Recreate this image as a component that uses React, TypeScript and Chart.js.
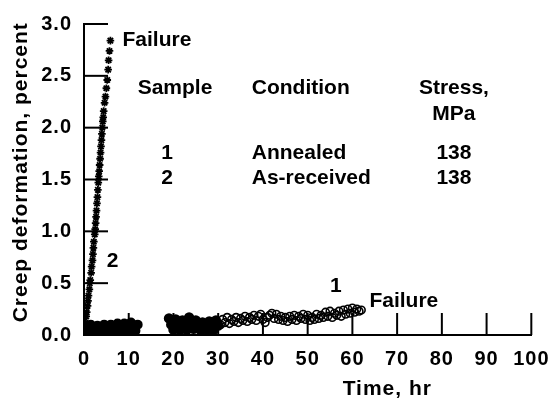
import { useEffect, useRef } from 'react';
import { Chart, registerables } from 'chart.js';

Chart.register(...registerables);

const FONT = '"Liberation Sans", Arial, Helvetica, sans-serif';

// Axis ticks
const xTicks = [0, 10, 20, 30, 40, 50, 60, 70, 80, 90, 100];
const yTicks = [0, 0.5, 1.0, 1.5, 2.0, 2.5, 3.0];

// Sample 1 (annealed) – circles, time in hr, creep in percent
const s1aTime = [0, 0.5, 1, 1.5, 2, 2.5, 3, 3.5, 4, 4.5, 5, 5.5, 6, 6.5, 7, 7.5, 8, 8.5, 9, 9.5, 10, 10.5, 11, 11.5, 12];
const s1aCreep = [0.09, 0.06, 0.03, 0.10, 0.06, 0.03, 0.09, 0.06, 0.03, 0.10, 0.06, 0.04, 0.10, 0.07, 0.04, 0.11, 0.07, 0.04, 0.11, 0.07, 0.04, 0.12, 0.08, 0.04, 0.10];
const s1bTime = [19, 19.5, 20, 20.5, 21, 21.5, 22, 22.5, 23, 23.5, 24, 24.5, 25, 25.5, 26, 26.5, 27, 27.5, 28, 28.5, 29, 29.5, 30];
const s1bCreep = [0.16, 0.10, 0.05, 0.15, 0.09, 0.05, 0.14, 0.10, 0.05, 0.17, 0.11, 0.06, 0.14, 0.09, 0.05, 0.12, 0.08, 0.04, 0.13, 0.09, 0.05, 0.14, 0.09];
const s1cTime = [30.5, 31, 31.5, 32, 32.5, 33, 33.5, 34, 34.5, 35, 35.5, 36, 36.5, 37, 37.5, 38, 38.5, 39, 39.5, 40, 40.5, 41, 41.5, 42, 42.5, 43, 43.5, 44, 44.5, 45, 45.5, 46, 46.5, 47, 47.5, 48, 48.5, 49, 49.5, 50, 50.5, 51, 51.5, 52, 52.5, 53, 53.5, 54, 54.5, 55, 55.5, 56, 56.5, 57, 57.5, 58, 58.5, 59, 59.5, 60, 60.5, 61, 61.5, 62];
const s1cCreep = [0.10, 0.15, 0.12, 0.17, 0.11, 0.15, 0.13, 0.17, 0.12, 0.16, 0.14, 0.18, 0.13, 0.17, 0.15, 0.19, 0.14, 0.18, 0.20, 0.15, 0.12, 0.17, 0.19, 0.21, 0.16, 0.20, 0.15, 0.18, 0.14, 0.17, 0.13, 0.18, 0.15, 0.19, 0.14, 0.18, 0.16, 0.20, 0.15, 0.19, 0.14, 0.17, 0.15, 0.20, 0.16, 0.19, 0.17, 0.22, 0.18, 0.23, 0.17, 0.21, 0.19, 0.23, 0.18, 0.24, 0.20, 0.25, 0.21, 0.26, 0.22, 0.25, 0.23, 0.24];

// Sample 2 (as-received) – asterisks
const s2Time = [0.1, 0.2, 0.3, 0.5, 0.6, 0.8, 0.9, 1.0, 1.2, 1.3, 1.4, 1.6, 1.7, 1.9, 2.0, 2.1, 2.2, 2.4, 2.5, 2.6, 2.7, 2.8, 2.9, 3.0, 3.1, 3.2, 3.3, 3.4, 3.5, 3.6, 3.7, 3.8, 3.9, 4.0, 4.1, 4.2, 4.3, 4.4, 4.6, 4.8, 5.0, 5.2, 5.4, 5.5, 5.7, 5.9];
const s2Creep = [0.02, 0.08, 0.12, 0.18, 0.22, 0.28, 0.33, 0.38, 0.44, 0.5, 0.53, 0.6, 0.66, 0.72, 0.78, 0.84, 0.9, 0.97, 1.02, 1.08, 1.14, 1.2, 1.27, 1.33, 1.4, 1.47, 1.53, 1.58, 1.64, 1.7, 1.76, 1.82, 1.88, 1.94, 2.0, 2.06, 2.1, 2.16, 2.24, 2.3, 2.38, 2.46, 2.56, 2.65, 2.74, 2.84];

// Inset table
const tableHeads = ['Sample', 'Condition', 'Stress,'];
const stressUnit = 'MPa';
const sampleIds = ['1', '2'];
const conditions = ['Annealed', 'As-received'];
const stresses = ['138', '138'];

const xTitle = 'Time, hr';
const yTitle = 'Creep deformation, percent';

const pts = (t: number[], v: number[]) => t.slice(0, Math.min(t.length, v.length)).map((x, i) => ({ x, y: v[i] }));

const decor = {
  id: 'decor',
  beforeDraw(chart: any) {
    chart.ctx.letterSpacing = '1px';
  },
  beforeDatasetsDraw(chart: any) {
    const { ctx, chartArea } = chart;
    const xs = chart.scales.x;
    const ys = chart.scales.y;
    ctx.save();
    ctx.strokeStyle = '#000';
    ctx.lineWidth = 2;
    yTicks.forEach((v) => {
      const py = ys.getPixelForValue(v);
      ctx.beginPath();
      ctx.moveTo(chartArea.left, py);
      ctx.lineTo(chartArea.left + 24, py);
      ctx.stroke();
    });
    xTicks.forEach((v) => {
      const px = xs.getPixelForValue(v);
      ctx.beginPath();
      ctx.moveTo(px, chartArea.bottom);
      ctx.lineTo(px, chartArea.bottom - 22);
      ctx.stroke();
    });
    ctx.restore();
  },
  afterDraw(chart: any) {
    const { ctx, chartArea } = chart;
    const xs = chart.scales.x;
    const ys = chart.scales.y;
    ctx.save();
    ctx.letterSpacing = '0px';
    ctx.fillStyle = '#000';
    ctx.textBaseline = 'middle';
    const txt = (s: string, xv: number, yv: number, align: CanvasTextAlign) => {
      ctx.textAlign = align;
      ctx.fillText(s, xs.getPixelForValue(xv), ys.getPixelForValue(yv));
    };
    ctx.font = `bold 21px ${FONT}`;
    txt('Failure', 8.6, 2.84, 'left');
    txt('2', 5.1, 0.71, 'left');
    txt('1', 55, 0.47, 'left');
    txt('Failure', 63.8, 0.33, 'left');
    txt(tableHeads[0], 12.0, 2.38, 'left');
    txt(tableHeads[1], 37.5, 2.38, 'left');
    txt(tableHeads[2], 82.7, 2.38, 'center');
    txt(stressUnit, 82.7, 2.13, 'center');
    sampleIds.forEach((s, i) => {
      const yv = i === 0 ? 1.75 : 1.51;
      txt(s, 18.6, yv, 'center');
      txt(conditions[i], 37.5, yv, 'left');
      txt(stresses[i], 82.7, yv, 'center');
    });
    // axis titles
    ctx.letterSpacing = '1px';
    ctx.font = `bold 21px ${FONT}`;
    ctx.textAlign = 'center';
    ctx.fillText(xTitle, xs.getPixelForValue(67.8), chartArea.bottom + 54);
    ctx.save();
    ctx.translate(chartArea.left - 63, ys.getPixelForValue(1.57));
    ctx.rotate(-Math.PI / 2);
    ctx.fillText(yTitle, 0, 0);
    ctx.restore();
    ctx.restore();
    ctx.letterSpacing = '0px';
  },
};

export default function App() {
  const ref = useRef<HTMLCanvasElement | null>(null);
  useEffect(() => {
    if (!ref.current) return;
    const chart = new Chart(ref.current, {
      type: 'scatter',
      data: {
        datasets: [
          {
            label: 'Sample 1',
            data: pts(s1aTime, s1aCreep),
            pointStyle: 'circle',
            pointRadius: 4,
            borderWidth: 2,
            borderColor: '#000',
            backgroundColor: '#000',
          },
          {
            label: 'Sample 1 b',
            data: pts(s1bTime, s1bCreep),
            pointStyle: 'circle',
            pointRadius: 4.2,
            borderWidth: 2,
            borderColor: '#000',
            backgroundColor: '#000',
          },
          {
            label: 'Sample 1 c',
            data: pts(s1cTime, s1cCreep),
            pointStyle: 'circle',
            pointRadius: 3.8,
            borderWidth: 1.6,
            borderColor: '#000',
            backgroundColor: 'rgba(0,0,0,0)',
          },
          {
            label: 'Sample 2',
            data: pts(s2Time, s2Creep),
            pointStyle: 'star',
            pointRadius: 3.8,
            borderWidth: 1.8,
            borderColor: '#000',
            backgroundColor: '#000',
          },
        ],
      },
      options: {
        animation: false,
        responsive: true,
        maintainAspectRatio: false,
        layout: { padding: { top: 16, right: 25, left: 0, bottom: 0 } },
        plugins: { legend: { display: false }, tooltip: { enabled: false } },
        scales: {
          x: {
            type: 'linear',
            min: 0,
            max: 100,
            afterBuildTicks: (s: any) => {
              s.ticks = xTicks.map((v) => ({ value: v }));
            },
            afterFit: (s: any) => {
              s.height = 70;
            },
            ticks: {
              color: '#000',
              padding: 12,
              font: { family: FONT, size: 20, weight: 'bold' },
              callback: (v: any) => String(v),
            },
            grid: { display: false, drawTicks: false },
            border: { display: true, color: '#000', width: 2 },
          },
          y: {
            type: 'linear',
            min: 0,
            max: 3,
            afterBuildTicks: (s: any) => {
              s.ticks = yTicks.map((v) => ({ value: v }));
            },
            afterFit: (s: any) => {
              s.width = 84;
            },
            ticks: {
              color: '#000',
              padding: 12,
              font: { family: FONT, size: 20, weight: 'bold' },
              callback: (v: any) => Number(v).toFixed(1),
            },
            grid: { display: false, drawTicks: false },
            border: { display: true, color: '#000', width: 2 },
          },
        },
      },
      plugins: [decor],
    });
    return () => chart.destroy();
  }, []);
  return (
    <div style={{ position: 'fixed', left: 0, top: 0, width: 560, height: 405, background: '#fff' }}>
      <canvas ref={ref} />
    </div>
  );
}
